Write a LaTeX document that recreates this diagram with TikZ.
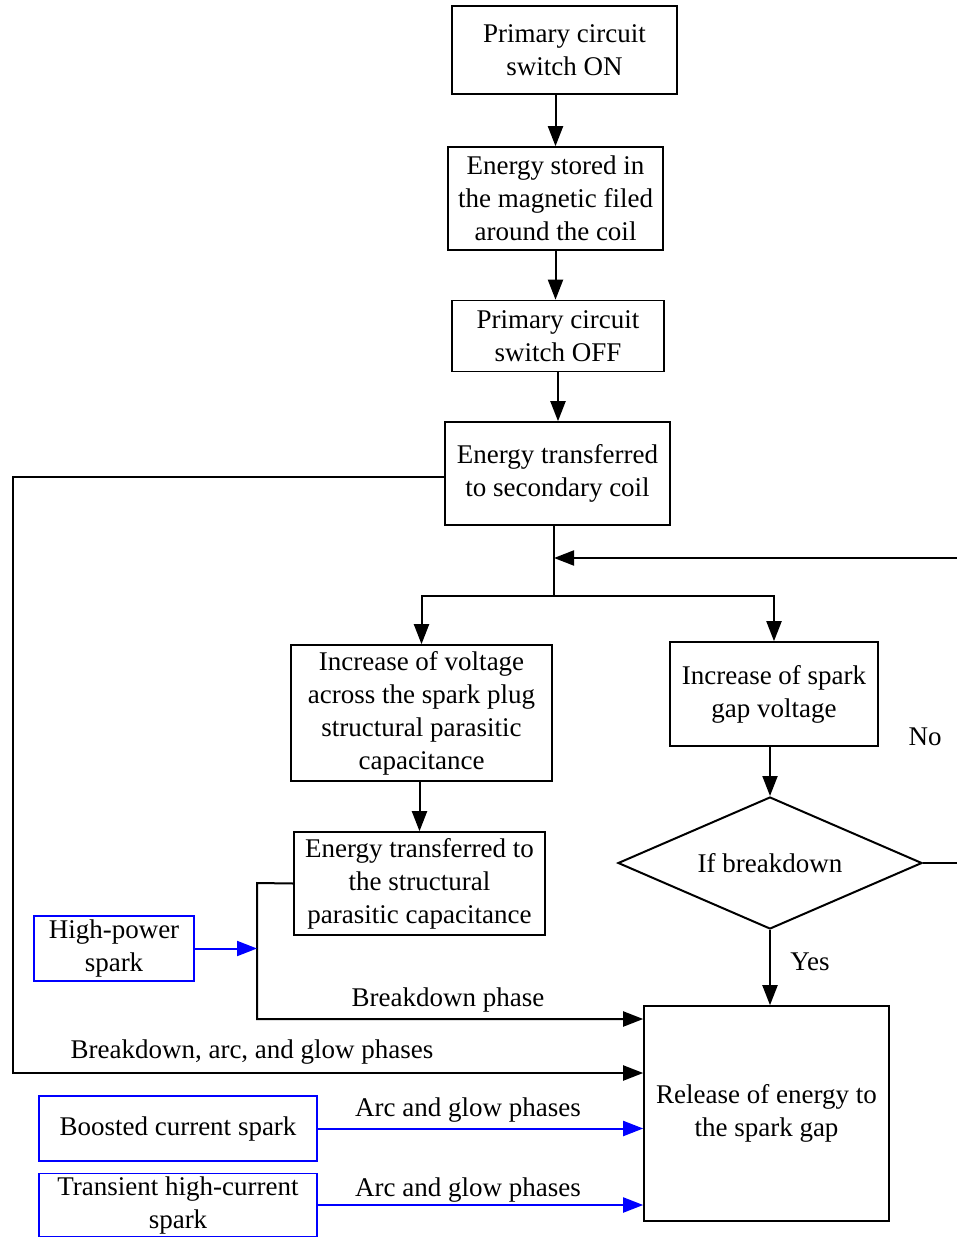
\documentclass[tikz,border=0pt]{standalone}
\usepackage{fontspec}
\setmainfont{Liberation Serif}
\usetikzlibrary{arrows.meta,shapes.geometric}
\begin{document}
\begin{tikzpicture}[x=1pt,y=-1pt,
  txt/.style={font=\fontsize{27}{33}\selectfont},
  box/.style={draw, line width=1.6pt, align=center, inner sep=0pt, txt},
  bbox/.style={box, draw={rgb,255:red,0;green,0;blue,255}},
  arr/.style={line width=2pt, -{Triangle[length=20pt,width=15pt]}},
  barr/.style={line width=2pt, draw={rgb,255:red,0;green,0;blue,255}, -{Triangle[length=20pt,width=15pt]}},
  lab/.style={txt, inner sep=0pt}]
\useasboundingbox (0,0) rectangle (956,1238);
% main column
\node[box, minimum width=225pt, minimum height=88pt] (b1) at (564.5,50) {Primary circuit\\switch ON};
\node[box, minimum width=215pt, minimum height=103pt] (b2) at (555.5,198.5) {Energy stored in\\the magnetic filed\\around the coil};
\node[box, minimum width=212pt, minimum height=71pt] (b3) at (558,336) {Primary circuit\\switch OFF};
\node[box, minimum width=225pt, minimum height=103pt] (b4) at (557.5,473.5) {Energy transferred\\to secondary coil};
\node[box, minimum width=261pt, minimum height=136pt] (b5) at (421.5,713) {Increase of voltage\\across the spark plug\\structural parasitic\\capacitance};
\node[box, minimum width=208pt, minimum height=104pt] (b6) at (774,694) {Increase of spark\\gap voltage};
\node[draw, line width=2pt, diamond, shape aspect=2.3, inner sep=0pt, minimum width=304pt, minimum height=132pt, txt] (d) at (770,863) {If breakdown};
\node[box, minimum width=251pt, minimum height=103pt] (b7) at (419.5,883.5) {Energy transferred to\\the structural\\parasitic capacitance};
\node[bbox, minimum width=160pt, minimum height=65pt] (hp) at (114,948.5) {High-power\\spark};
\node[box, minimum width=245pt, minimum height=215pt] (rel) at (766.5,1113.5) {Release of energy to\\the spark gap};
\node[bbox, minimum width=278pt, minimum height=65pt] (bc) at (178,1128.5) {Boosted current spark};
\node[bbox, minimum width=278pt, minimum height=63pt] (tr) at (178,1205) {Transient high-current\\spark};
% coordinates
\coordinate (j) at (554,596);
\coordinate (fr) at (962,863);
\coordinate (ft) at (962,558);
\coordinate (k1) at (257,883);
\coordinate (k2) at (257,1019);
\coordinate (l1) at (13,477);
\coordinate (l2) at (13,1073);
% connectors
\draw[arr] (b2.north |- b1.south) -- (b2.north);
\draw[arr] (b2.south) -- (b2.south |- b3.north);
\draw[arr] (b3.south) -- (b3.south |- b4.north);
\draw[line width=2pt] (j |- b4.south) -- (j);
\draw[arr] (j) -| (b5.north);
\draw[arr] (j) -| (b6.north);
\draw[arr] (d.east) -- (fr) -- (ft) -- (j |- ft);
\draw[arr] (b6.south -| d.north) -- (d.north);
\draw[arr] (d.south) -- (d.south |- rel.north);
\draw[arr] (b7.north |- b5.south) -- (b7.north);
\draw[arr] (b7.west) -- (k1) -- (k2) -- (k2 -| rel.west);
\draw[barr] (hp.east) -- (hp.east -| k1);
\draw[arr] (l1 -| b4.west) -- (l1) -- (l2) -- (l2 -| rel.west);
\draw[barr] (bc.east) -- (bc.east -| rel.west);
\draw[barr] (tr.east) -- (tr.east -| rel.west);
% labels
\node[lab] (no) at (925,737) {No};
\node[lab] (yes) at (810,962) {Yes};
\node[lab] (lbp) at (448,1000) {Breakdown phase};
\node[lab] (lbag) at (252,1052) {Breakdown, arc, and glow phases};
\node[lab] (lag1) at (468,1110) {Arc and glow phases};
\node[lab] (lag2) at (468,1190) {Arc and glow phases};
\end{tikzpicture}
\end{document}
